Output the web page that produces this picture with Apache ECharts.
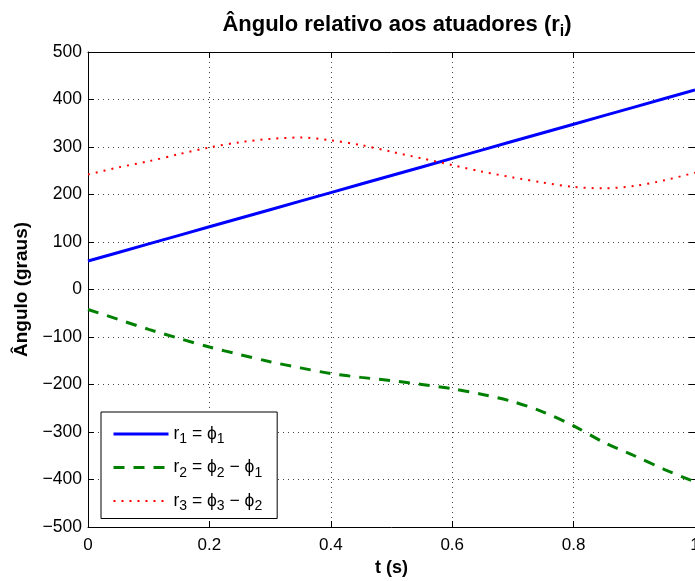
<!DOCTYPE html>
<html>
<head>
<meta charset="utf-8">
<script src="https://cdn.jsdelivr.net/npm/echarts@6/dist/echarts.min.js"></script>
<style>
    html, body { margin: 0; padding: 0; background: #fff; }
    #chart { width: 695px; height: 581px; }
</style>
</head>
<body>
<div id="chart"></div>
<script>
    // tempo (s)
    var t = [0, 0.05, 0.1, 0.15, 0.2, 0.25, 0.3, 0.35, 0.4, 0.45, 0.5,
             0.55, 0.6, 0.65, 0.7, 0.75, 0.8, 0.85, 0.9, 0.95, 1];
    // r1 = phi1
    var r1 = [60, 78, 96, 114, 132, 150, 168, 186, 204, 222, 240,
              258, 276, 294, 312, 330, 348, 366, 384, 402, 420];
    // r2 = phi2 - phi1
    var r2 = [-42, -63, -84, -103, -121, -137, -152, -165, -177, -185, -192,
              -200, -209, -221, -236, -258, -287, -322, -350, -379, -405];
    // r3 = phi3 - phi2
    var r3 = [242, 257, 270, 285, 299, 310, 317, 320, 314, 304, 290,
              276, 262, 248, 236, 225, 216, 213, 218, 230, 246];

    var seriesNames = ['r1', 'r2', 'r3'];
    var legendLabels = {
        r1: 'r{sub|1} = ϕ{sub|1}',
        r2: 'r{sub|2} = ϕ{sub|2} − ϕ{sub|1}',
        r3: 'r{sub|3} = ϕ{sub|3} − ϕ{sub|2}'
    };
    var xMin = 0, xMax = 1, xStep = 0.2;
    var yMin = -500, yMax = 500, yStep = 100;

    var font = 'Liberation Sans, Arial, sans-serif';

    function pairs(ys) {
        return t.map(function (x, i) { return [x, ys[i]]; });
    }

    var chart = echarts.init(document.getElementById('chart'));

    var frameAxis = {
        axisLine: { show: true, onZero: false, lineStyle: { color: '#000', width: 1 } },
        axisTick: { show: true, inside: true, length: 6, lineStyle: { color: '#000' } },
        axisLabel: { show: false },
        splitLine: { show: false }
    };
    var gridLine = { show: true, lineStyle: { color: '#444', type: [1, 4], width: 1 } };

    var option = {
        animation: false,
        backgroundColor: '#fff',
        textStyle: { fontFamily: font },
        title: {
            text: 'Ângulo relativo aos atuadores (r{sub|i})',
            left: 392,
            top: 4,
            textAlign: 'center',
            textStyle: {
                fontFamily: font, fontSize: 22, fontWeight: 'bold', color: '#000',
                rich: { sub: { fontFamily: font, fontSize: 16, fontWeight: 'bold', padding: [15, 0, 0, 0] } }
            }
        },
        grid: { left: 88, right: 0, top: 52, bottom: 54, containLabel: false, outerBoundsMode: 'none' },
        legend: {
            data: [
                { name: seriesNames[0], lineStyle: { width: 3 } },
                { name: seriesNames[1], lineStyle: { width: 3 } },
                { name: seriesNames[2], lineStyle: { width: 2 } }
            ],
            orient: 'vertical',
            left: 101,
            top: 412,
            padding: [13, 15, 5, 11],
            itemGap: 12,
            itemWidth: 55,
            itemHeight: 14,
            backgroundColor: '#fff',
            borderColor: '#000',
            borderWidth: 1,
            borderRadius: 0,
            itemStyle: { opacity: 0 },
            formatter: function (name) { return legendLabels[name]; },
            textStyle: {
                fontFamily: font, fontSize: 17.5, color: '#000',
                rich: { sub: { fontFamily: font, fontSize: 14, color: '#000', padding: [11, 0, 0, 0] } }
            }
        },
        xAxis: [{
            type: 'value', min: xMin, max: xMax, interval: xStep,
            name: 't (s)', nameLocation: 'middle', nameGap: 26,
            nameTextStyle: { fontFamily: font, fontSize: 18, fontWeight: 'bold', color: '#000' },
            axisLine: { show: true, onZero: false, lineStyle: { color: '#000', width: 1 } },
            axisTick: { show: true, inside: true, length: 6, lineStyle: { color: '#000' } },
            axisLabel: { margin: 10, fontFamily: font, fontSize: 17, color: '#000' },
            splitLine: gridLine
        }, Object.assign({
            type: 'value', min: xMin, max: xMax, interval: xStep, position: 'top'
        }, frameAxis)],
        yAxis: [{
            type: 'value', min: yMin, max: yMax, interval: yStep,
            name: 'Ângulo (graus)', nameLocation: 'middle', nameGap: 55, nameRotate: 90,
            nameTextStyle: { fontFamily: font, fontSize: 19, fontWeight: 'bold', color: '#000' },
            axisLine: { show: true, onZero: false, lineStyle: { color: '#000', width: 1 } },
            axisTick: { show: true, inside: true, length: 6, lineStyle: { color: '#000' } },
            axisLabel: {
                margin: 6, fontFamily: font, fontSize: 17.5, color: '#000',
                formatter: function (v) { return String(v).replace('-', '\u2212'); }
            },
            splitLine: gridLine
        }, Object.assign({
            type: 'value', min: yMin, max: yMax, interval: yStep, position: 'right'
        }, frameAxis)],
        series: [
            {
                name: 'r1', type: 'line', data: pairs(r1), showSymbol: false, symbol: 'none',
                lineStyle: { color: '#0000ff', width: 3 }, itemStyle: { color: '#0000ff' }
            },
            {
                name: 'r2', type: 'line', data: pairs(r2), showSymbol: false, symbol: 'none', smooth: 0.3,
                lineStyle: { color: '#008000', width: 3, type: [11, 9] }, itemStyle: { color: '#008000' }
            },
            {
                name: 'r3', type: 'line', data: pairs(r3), showSymbol: false, symbol: 'none', smooth: 0.3,
                lineStyle: { color: '#ff0000', width: 2, type: [2, 6] }, itemStyle: { color: '#ff0000' }
            }
        ]
    };

    chart.setOption(option);
</script>
</body>
</html>
